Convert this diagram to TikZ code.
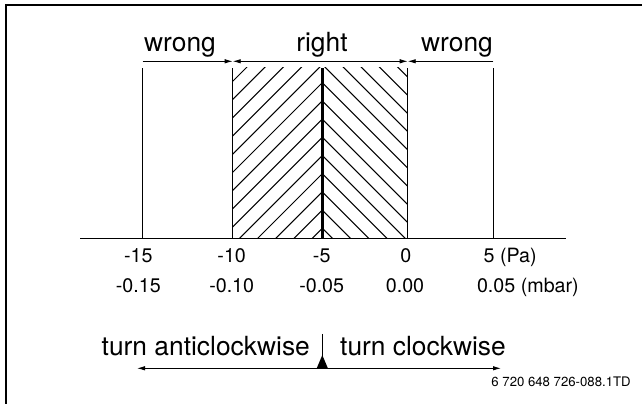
\documentclass[tikz,border=0pt]{standalone}
\usepackage{fontspec}
\setmainfont{TeX Gyre Heros}
\usetikzlibrary{arrows.meta}

\tikzset{
  biglabel/.style={inner sep=0pt, anchor=base, font=\fontsize{15}{18}\selectfont},
  ticklabel/.style={inner sep=0pt, anchor=base, font=\fontsize{11.2}{13}\selectfont},
  hatchline/.style={line width=0.6pt},
  scaleline/.style={line width=0.85pt},
  >={Latex[length=1.6mm,width=0.9mm]},
}

\begin{document}
\begin{tikzpicture}
        \useasboundingbox (0,0) rectangle (12.84,8.08);

        % Frame (top and left only)
        \draw[line width=1.1pt] (0.12,0) -- (0.12,7.98) -- (12.84,7.98);

        % Scale positions
        \coordinate (m15) at (2.854,3.306);
        \coordinate (m10) at (4.654,3.306);
        \coordinate (m5) at (6.446,3.306);
        \coordinate (z0) at (8.154,3.306);
        \coordinate (p5) at (9.866,3.306);
        \coordinate (m15t) at (2.854,6.72);
        \coordinate (m10t) at (4.654,6.72);
        \coordinate (m5t) at (6.446,6.72);
        \coordinate (z0t) at (8.154,6.72);
        \coordinate (p5t) at (9.866,6.72);

        % Hatching of the right range
        \begin{scope}
            \clip (m10) rectangle (m5t);
            \foreach \k in {-4,...,9}
                \draw[hatchline] (6.446,{6.79-0.364*\k}) -- ++(-3,-3);
        \end{scope}
        \begin{scope}
            \clip (m5) rectangle (z0t);
            \foreach \k in {-4,...,9}
                \draw[hatchline] (6.446,{6.79-0.364*\k}) -- ++(3,-3);
        \end{scope}

        % Vertical lines and axis
        \draw[scaleline] (m15) -- (m15t);
        \draw[scaleline] (m10) -- (m10t);
        \draw[scaleline] (z0) -- (z0t);
        \draw[scaleline] (p5) -- (p5t);
        \draw[line width=1.7pt] (m5) -- (m5t);
        \draw[scaleline] (1.6,3.306) -- (11.32,3.306);

        % Range arrows
        \coordinate (wl) at (2.854,6.854);
        \coordinate (rl) at (4.654,6.854);
        \coordinate (rr) at (8.154,6.854);
        \coordinate (wr) at (9.866,6.854);
        \draw[line width=0.5pt, ->] (wl) -- (rl);
        \draw[line width=0.5pt, <->] (rl) -- (rr);
        \draw[line width=0.5pt, ->] (wr) -- (rr);
        \node[biglabel] (wrongl) at (3.6,7.046) {wrong};
        \node[biglabel] (rightr) at (6.44,7.046) {right};
        \node[biglabel] (wrongr) at (9.14,7.046) {wrong};

        % Tick labels
        \node[ticklabel] (pa15) at (2.766,2.834) {-15};
        \node[ticklabel] (pa10) at (4.634,2.834) {-10};
        \node[ticklabel] (pa5) at (6.434,2.834) {-5};
        \node[ticklabel] (pa0) at (8.116,2.834) {0};
        \node[ticklabel, anchor=base west] (pap5) at (9.666,2.834) {5 (Pa)};
        \node[ticklabel] (mb15) at (2.766,2.234) {-0.15};
        \node[ticklabel] (mb10) at (4.634,2.234) {-0.10};
        \node[ticklabel] (mb5) at (6.434,2.234) {-0.05};
        \node[ticklabel] (mb0) at (8.1,2.234) {0.00};
        \node[ticklabel, anchor=base west] (mbp5) at (9.534,2.234) {0.05 (mbar)};

        % Turning direction
        \node[biglabel] (anti) at (4.116,0.96) {turn anticlockwise};
        \node[biglabel] (clock) at (8.46,0.96) {turn clockwise};
        \coordinate (tl) at (2.74,0.714);
        \coordinate (tr) at (10.02,0.714);
        \coordinate (mark) at (6.446,1.4);
        \draw[line width=0.5pt, <->] (tl) -- (tr);
        \draw[line width=0.6pt] (mark) -- (6.446,0.714);
        \fill (6.33,0.704) -- (6.562,0.704) -- (6.446,0.98) -- cycle;

        % Drawing number
        \node[inner sep=0pt, anchor=base east, font=\fontsize{7.5}{9}\selectfont] (code) at (12.62,0.34) {6 720 648 726-088.1TD};
    \end{tikzpicture}
\end{document}
